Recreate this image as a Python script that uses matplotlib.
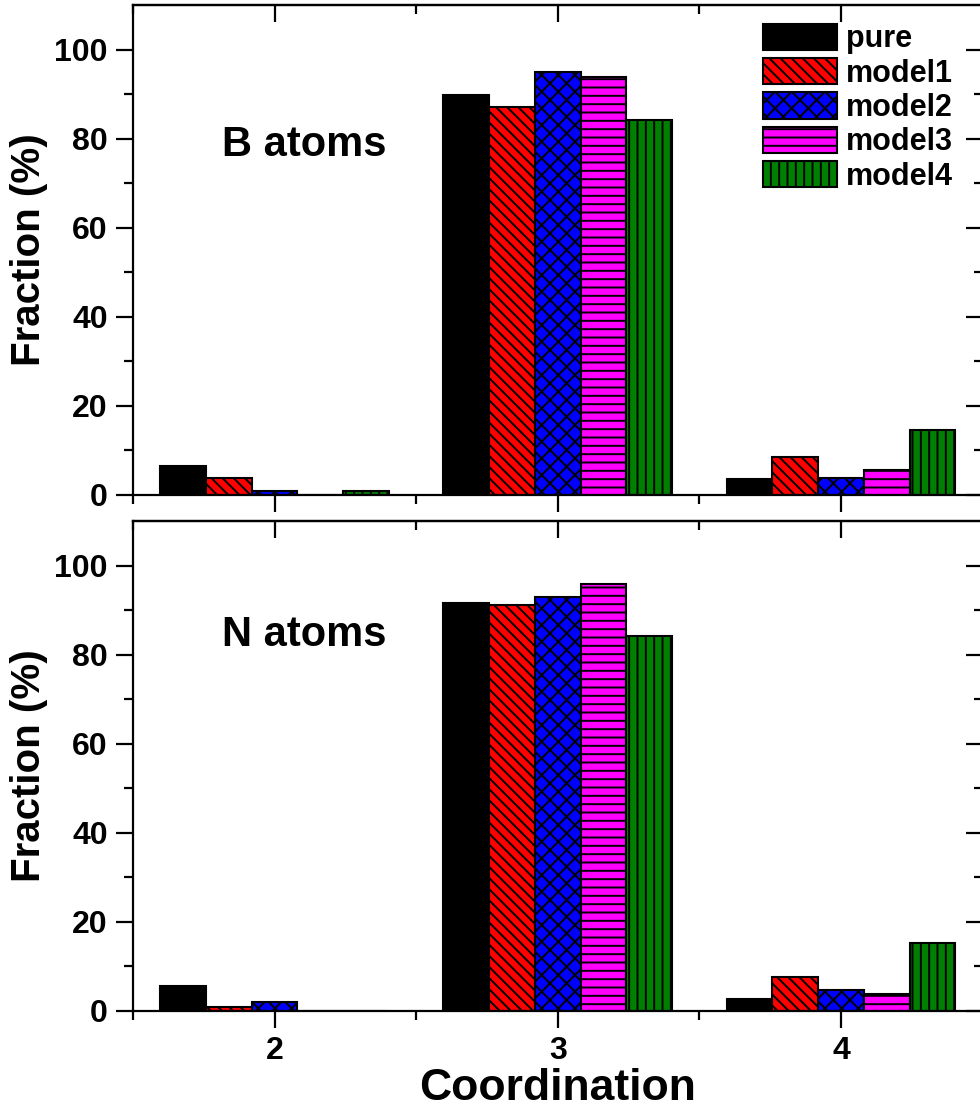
import numpy as np
import matplotlib
matplotlib.use("Agg")
import matplotlib.pyplot as plt

plt.rcParams['font.family'] = ['Liberation Sans', 'DejaVu Sans']
plt.rcParams['font.weight'] = 'bold'
plt.rcParams['hatch.linewidth'] = 1.4

# data
coordination = [2, 3, 4]
series = ['pure', 'model1', 'model2', 'model3', 'model4']
b_atoms = {
    'pure':   [6.5, 89.7, 3.5],
    'model1': [3.8, 87.0, 8.4],
    'model2': [0.9, 94.9, 3.6],
    'model3': [0.0, 93.9, 5.6],
    'model4': [0.9, 84.2, 14.4],
}
n_atoms = {
    'pure':   [5.6, 91.6, 2.7],
    'model1': [0.9, 91.1, 7.6],
    'model2': [2.0, 93.0, 4.6],
    'model3': [0.0, 95.9, 3.8],
    'model4': [0.0, 84.2, 15.3],
}
colors = ['black', 'red', 'blue', 'magenta', 'green']
hatches = [None, '\\\\\\', 'xx', '--', '||']

fig = plt.figure(figsize=(9.8, 11.11), dpi=100)
ax1 = fig.add_axes([0.1357, 0.5549, 0.8670, 0.4406])
ax2 = fig.add_axes([0.1357, 0.0903, 0.8670, 0.4406])

w = 0.1615
x = np.array(coordination, dtype=float)


def draw_panel(ax, data, label, label_y, show_xlabels):
    for i, s in enumerate(series):
        ax.bar(x + (i - 2) * w, data[s], width=w, color=colors[i],
               edgecolor='black', linewidth=1.5, hatch=hatches[i], label=s)
    ax.set_xlim(1.5, 4.5)
    ax.set_ylim(0, 110)
    ax.set_yticks([0, 20, 40, 60, 80, 100])
    ax.set_yticks(np.arange(10, 110, 20), minor=True)
    ax.set_xticks(coordination)
    ax.set_xticks([1.5, 2.5, 3.5, 4.5], minor=True)
    for sp in ax.spines.values():
        sp.set_linewidth(1.6)
    ax.tick_params(which='major', direction='out', length=12, width=1.6,
                   labelsize=23, pad=6)
    ax.tick_params(which='minor', direction='out', length=6.5, width=1.6)
    ax.tick_params(axis='x', pad=6)
    if not show_xlabels:
        ax.tick_params(axis='x', labelbottom=False)
    ax.set_ylabel('Fraction (%)', fontsize=29, fontweight='bold', labelpad=5)

    # top and right ticks point inward
    top = ax.secondary_xaxis('top')
    top.set_xticks(coordination)
    top.set_xticks([1.5, 2.5, 3.5, 4.5], minor=True)
    top.tick_params(which='major', direction='in', length=12, width=1.6, labeltop=False)
    top.tick_params(which='minor', direction='in', length=6.5, width=1.6)
    top.spines['top'].set_linewidth(1.6)

    right = ax.secondary_yaxis('right')
    right.set_yticks([0, 20, 40, 60, 80, 100])
    right.set_yticks(np.arange(10, 110, 20), minor=True)
    right.tick_params(which='major', direction='in', length=12, width=1.6, labelright=False)
    right.tick_params(which='minor', direction='in', length=6.5, width=1.6)
    right.spines['right'].set_linewidth(1.6)

    ax.text(0.105, label_y, label, transform=ax.transAxes, fontsize=30,
            fontweight='bold', va='center', ha='left')


draw_panel(ax1, b_atoms, 'B atoms', 0.714, False)
draw_panel(ax2, n_atoms, 'N atoms', 0.767, True)
ax2.set_xlabel('Coordination', fontsize=32, fontweight='bold', labelpad=2)

ax1.legend(loc='upper left', bbox_to_anchor=(0.742, 0.962), frameon=False,
           fontsize=22, handlelength=2.4, handleheight=0.95, handletextpad=0.3,
           labelspacing=0.12, borderpad=0, borderaxespad=0)

fig.savefig('out.png', dpi=100)
